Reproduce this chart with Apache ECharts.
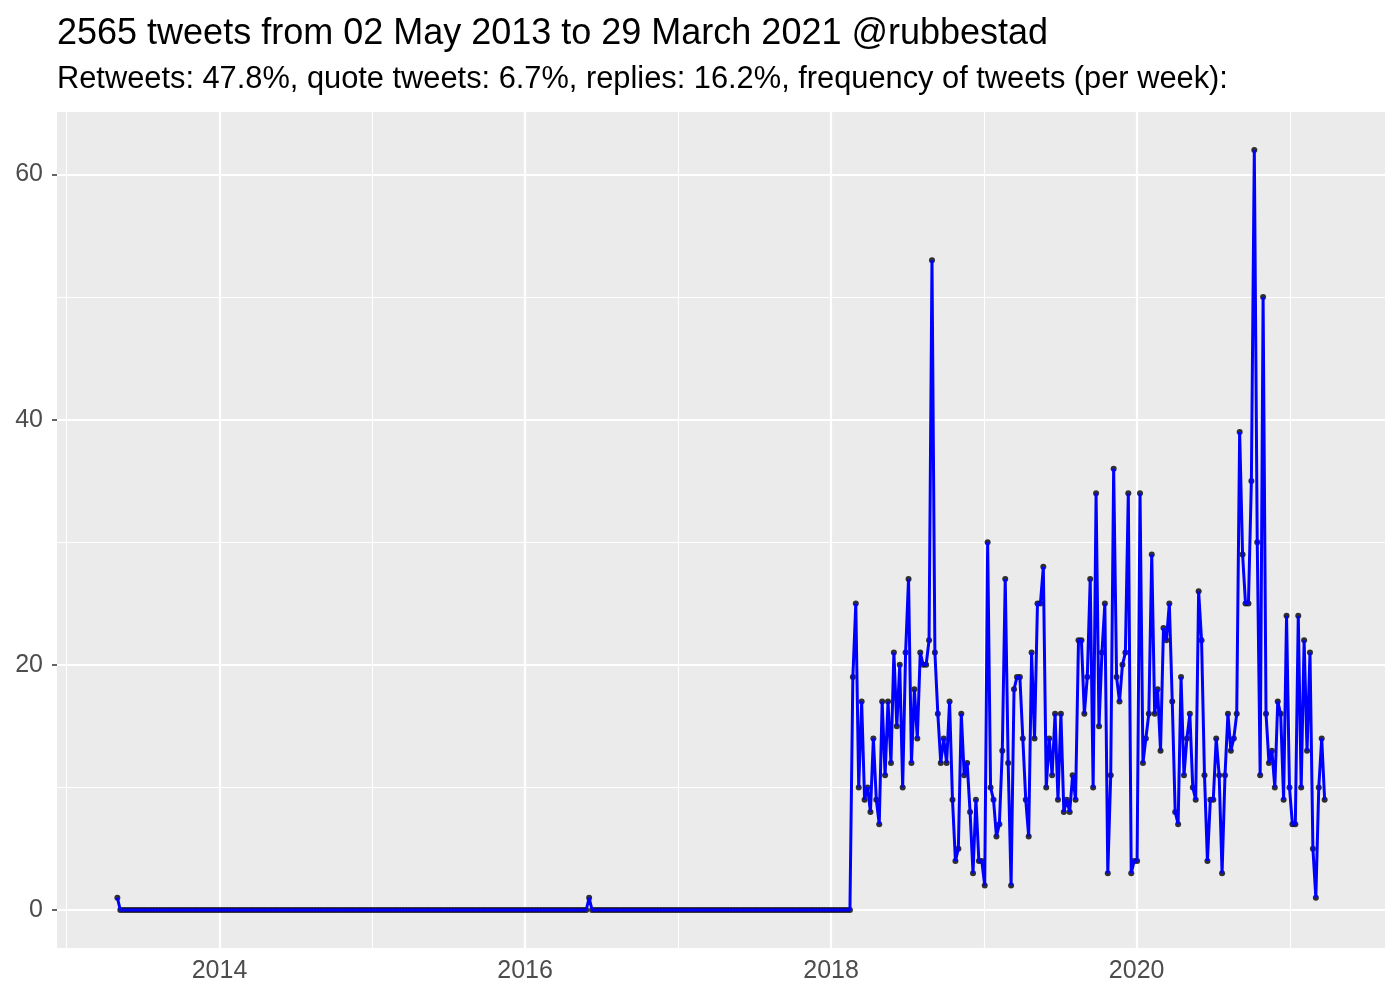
<!DOCTYPE html>
<html>
<head>
<meta charset="utf-8">
<title>tweets per week</title>
<script src="https://cdn.jsdelivr.net/npm/echarts@6/dist/echarts.min.js"></script>
<style>
  html, body { margin: 0; padding: 0; background: #fff; }
  #chart { width: 1400px; height: 1000px; }
</style>
</head>
<body>
<div id="chart"></div>
<script>
// weekly bins, first one starts on the first tweet (02 May 2013)
const firstWeek = Date.UTC(2013, 4, 2);
const WEEK = 7 * 24 * 3600 * 1000;

// 2013-05 .. 2018-02: almost nothing
const quietWeeks = [
  1,
  0, 0, 0, 0, 0, 0, 0, 0, 0, 0, 0, 0, 0, 0, 0, 0, 0, 0, 0, 0,
  0, 0, 0, 0, 0, 0, 0, 0, 0, 0, 0, 0, 0, 0, 0, 0, 0, 0, 0, 0,
  0, 0, 0, 0, 0, 0, 0, 0, 0, 0, 0, 0, 0, 0, 0, 0, 0, 0, 0, 0,
  0, 0, 0, 0, 0, 0, 0, 0, 0, 0, 0, 0, 0, 0, 0, 0, 0, 0, 0, 0,
  0, 0, 0, 0, 0, 0, 0, 0, 0, 0, 0, 0, 0, 0, 0, 0, 0, 0, 0, 0,
  0, 0, 0, 0, 0, 0, 0, 0, 0, 0, 0, 0, 0, 0, 0, 0, 0, 0, 0, 0,
  0, 0, 0, 0, 0, 0, 0, 0, 0, 0, 0, 0, 0, 0, 0, 0, 0, 0, 0, 0,
  0, 0, 0, 0, 0, 0, 0, 0, 0, 0, 0, 0, 0, 0, 0, 0, 0, 0, 0, 0,
  1,
  0, 0, 0, 0, 0, 0, 0, 0, 0, 0, 0, 0, 0, 0, 0, 0, 0, 0, 0, 0,
  0, 0, 0, 0, 0, 0, 0, 0, 0, 0, 0, 0, 0, 0, 0, 0, 0, 0, 0, 0,
  0, 0, 0, 0, 0, 0, 0, 0, 0, 0, 0, 0, 0, 0, 0, 0, 0, 0, 0, 0,
  0, 0, 0, 0, 0, 0, 0, 0, 0, 0, 0, 0, 0, 0, 0, 0, 0, 0, 0, 0,
  0, 0, 0, 0, 0, 0, 0, 0, 0
];

// 2018-02 .. 2021-03
const activeWeeks = [
  19, 25, 10, 17, 9, 10, 8, 14, 9, 7,
  17, 11, 17, 12, 21, 15, 20, 10, 21, 27,
  12, 18, 14, 21, 20, 20, 22, 53, 21, 16,
  12, 14, 12, 17, 9, 4, 5, 16, 11, 12,
  8, 3, 9, 4, 4, 2, 30, 10, 9, 6,
  7, 13, 27, 12, 2, 18, 19, 19, 14, 9,
  6, 21, 14, 25, 25, 28, 10, 14, 11, 16,
  9, 16, 8, 9, 8, 11, 9, 22, 22, 16,
  19, 27, 10, 34, 15, 21, 25, 3, 11, 36,
  19, 17, 20, 21, 34, 3, 4, 4, 34, 12,
  14, 16, 29, 16, 18, 13, 23, 22, 25, 17,
  8, 7, 19, 11, 14, 16, 10, 9, 26, 22,
  11, 4, 9, 9, 14, 11, 3, 11, 16, 13,
  14, 16, 39, 29, 25, 25, 35, 62, 30, 11,
  50, 16, 12, 13, 10, 17, 16, 9, 24, 10,
  7, 7, 24, 10, 22, 13, 21, 5, 1, 10,
  14, 9
];

const yearLabels = [2014, 2016, 2018, 2020];
const yearMinor = [2013, 2015, 2017, 2019, 2021];
const yMajor = [0, 20, 40, 60];
const yMinor = [10, 30, 50];

const titleText = '2565 tweets from 02 May 2013 to 29 March 2021 @rubbestad';
const subText = 'Retweets: 47.8%, quote tweets: 6.7%, replies: 16.2%, frequency of tweets (per week):';

const counts = quietWeeks.concat(activeWeeks);
const points = counts.map((v, i) => [firstWeek + i * WEEK, v]);

const tFirst = points[0][0];
const tLast = points[points.length - 1][0];
const pad = (tLast - tFirst) * 0.05;
const yearTs = y => Date.UTC(y, 0, 1);

const labelColor = '#4D4D4D';
const font = 'Liberation Sans';

const gridLines = [];
yearLabels.forEach(y => gridLines.push({ xAxis: yearTs(y), lineStyle: { width: 2.2 } }));
yearMinor.forEach(y => gridLines.push({ xAxis: yearTs(y), lineStyle: { width: 1.1 } }));
yMajor.forEach(v => gridLines.push({ yAxis: v, lineStyle: { width: 2.2 } }));
yMinor.forEach(v => gridLines.push({ yAxis: v, lineStyle: { width: 1.1 } }));

const chart = echarts.init(document.getElementById('chart'));
chart.setOption({
    animation: false,
    backgroundColor: '#fff',
    title: {
        text: titleText,
        subtext: subText,
        left: 57,
        top: 16,
        padding: 0,
        itemGap: 12,
        textStyle: { fontFamily: font, fontSize: 36, fontWeight: 'normal', color: '#000' },
        subtextStyle: { fontFamily: font, fontSize: 30.8, color: '#000' }
    },
    grid: {
        left: 57,
        right: 15,
        top: 112,
        bottom: 52,
        show: true,
        backgroundColor: '#EBEBEB',
        borderWidth: 0
    },
    xAxis: {
        // dates kept as UTC timestamps on a plain value axis
        type: 'value',
        min: tFirst - pad,
        max: tLast + pad,
        splitLine: { show: false },
        axisLine: { show: false },
        axisTick: {
            show: true,
            customValues: yearLabels.map(yearTs),
            length: 5,
            lineStyle: { color: '#333333', width: 1.5 }
        },
        axisLabel: {
            customValues: yearLabels.map(yearTs),
            formatter: v => String(new Date(v).getUTCFullYear()),
            color: labelColor,
            fontFamily: font,
            fontSize: 25,
            margin: 11
        }
    },
    yAxis: {
        type: 'value',
        min: -3.1,
        max: 65.1,
        splitLine: { show: false },
        axisLine: { show: false },
        axisTick: {
            show: true,
            customValues: yMajor,
            length: 5,
            lineStyle: { color: '#333333', width: 1.5 }
        },
        axisLabel: {
            customValues: yMajor,
            color: labelColor,
            fontFamily: font,
            fontSize: 25,
            margin: 14
        }
    },
    series: [
        {
            name: 'grid',
            type: 'line',
            data: [],
            z: 1,
            silent: true,
            markLine: {
                z: 1,
                silent: true,
                symbol: ['none', 'none'],
                label: { show: false },
                lineStyle: { color: '#FFFFFF', type: 'solid' },
                data: gridLines
            }
        },
        {
            name: 'points',
            type: 'scatter',
            data: points,
            z: 2,
            symbolSize: 6,
            itemStyle: { color: '#000000' }
        },
        {
            name: 'tweets',
            type: 'line',
            data: points,
            z: 3,
            showSymbol: false,
            symbol: 'none',
            sampling: null,
            lineStyle: { color: '#0000FF', width: 3 }
        }
    ]
});
</script>
</body>
</html>
